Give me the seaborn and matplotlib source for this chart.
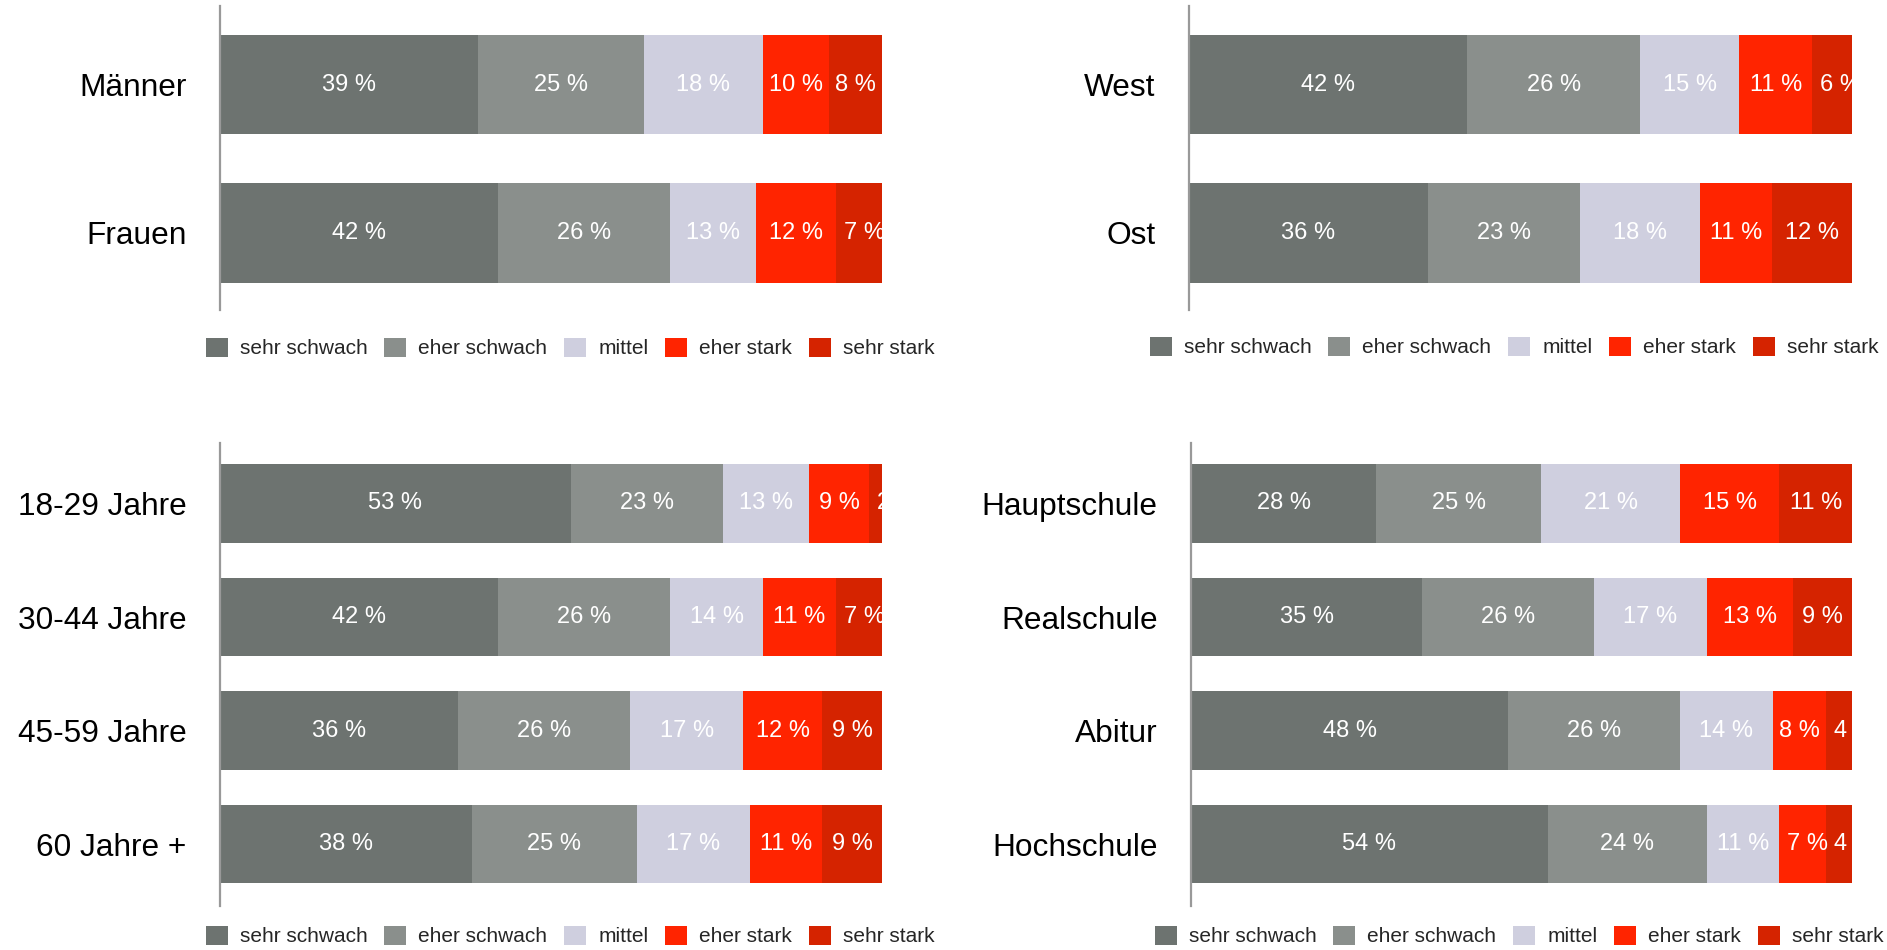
import numpy as np
import pandas as pd
import matplotlib
matplotlib.use("Agg")
import matplotlib.pyplot as plt
import seaborn as sns
from matplotlib.patches import Patch

levels = ["sehr schwach", "eher schwach", "mittel", "eher stark", "sehr stark"]
colors = ["#6d7370", "#8a8f8c", "#cfcfdf", "#ff2400", "#d52300"]

gender_cats = ["Männer", "Frauen"]
gender_vals = [[39, 25, 18, 10, 8], [42, 26, 13, 12, 7]]
region_cats = ["West", "Ost"]
region_vals = [[42, 26, 15, 11, 6], [36, 23, 18, 11, 12]]
age_cats = ["18-29 Jahre", "30-44 Jahre", "45-59 Jahre", "60 Jahre +"]
age_vals = [[53, 23, 13, 9, 2], [42, 26, 14, 11, 7], [36, 26, 17, 12, 9], [38, 25, 17, 11, 9]]
edu_cats = ["Hauptschule", "Realschule", "Abitur", "Hochschule"]
edu_vals = [[28, 25, 21, 15, 11], [35, 26, 17, 13, 9], [48, 26, 14, 8, 4], [54, 24, 11, 7, 4]]

sns.set_theme(style="white")
plt.rcParams["font.family"] = ["Liberation Sans", "DejaVu Sans"]

W, H = 1887, 950
fig = plt.figure(figsize=(W / 100, H / 100), dpi=100)
renderer = fig.canvas.get_renderer()


def panel(rect_px, cats, vals, ylim, barw, leg_center):
    l, r, t, b = rect_px
    ax = fig.add_axes([l / W, 1 - b / H, (r - l) / W, (b - t) / H])
    px_per_unit = (r - l) / 100.0
    df = pd.DataFrame(vals, columns=levels)
    df["cat"] = cats
    cum = df[levels].cumsum(axis=1)
    for i in range(len(levels) - 1, -1, -1):
        d = pd.DataFrame({"cat": cats, "cum": cum[levels[i]].values})
        sns.barplot(data=d, x="cum", y="cat", order=cats, orient="h",
                    color=colors[i], saturation=1, width=barw, ax=ax,
                    linewidth=0, errorbar=None)
    ax.set_xlim(0, 100)
    ax.set_ylim(*ylim)
    for j in range(len(cats)):
        for i, lev in enumerate(levels):
            v = df.loc[j, lev]
            right = cum.loc[j, lev]
            left = right - v
            txt = ax.text(left + v / 2, j, f"{v} %", ha="center", va="center",
                          color="white", fontsize=17, clip_on=True)
            tw = txt.get_window_extent(renderer).width
            if tw + 12 > v * px_per_unit:
                txt.set_x(left + 8 / px_per_unit)
                txt.set_ha("left")
    ax.set_xlabel("")
    ax.set_ylabel("")
    ax.set_xticks([])
    for s in ["top", "right", "bottom"]:
        ax.spines[s].set_visible(False)
    ax.spines["left"].set_color("#999999")
    ax.spines["left"].set_linewidth(1.6)
    ax.tick_params(axis="y", length=0, pad=24, labelsize=22.8, labelcolor="black")
    handles = [Patch(facecolor=c, edgecolor="none") for c in colors]
    cx, cy = leg_center
    ax.legend(handles, levels, loc="center", bbox_to_anchor=(cx / W, 1 - cy / H),
              bbox_transform=fig.transFigure, ncol=5, frameon=False,
              prop=dict(family=["Liberation Sans"], size=15),
              handlelength=1.06, handleheight=1.06, handletextpad=0.58,
              columnspacing=0.8, borderpad=0)
    return ax


panel((220, 882, 6, 310), gender_cats, gender_vals, (1.519, -0.529), 0.67, (570, 348))
panel((1189, 1852, 6, 310), region_cats, region_vals, (1.519, -0.529), 0.67, (1514, 347))
panel((220, 882, 443, 906), age_cats, age_vals, (3.546, -0.533), 0.69, (570, 936))
panel((1191, 1852, 443, 906), edu_cats, edu_vals, (3.546, -0.533), 0.69, (1519, 936))

fig.savefig("out.png", dpi=100)
